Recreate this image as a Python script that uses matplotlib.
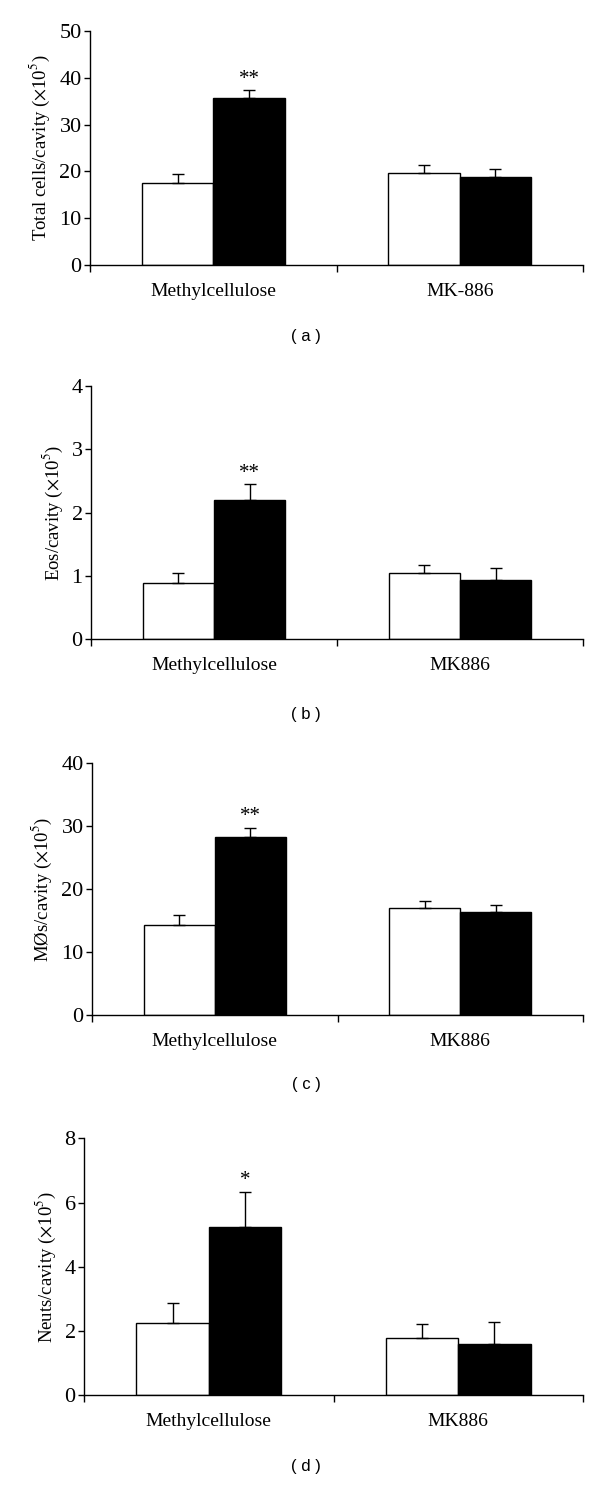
import matplotlib
matplotlib.use("Agg")
import matplotlib.pyplot as plt
import numpy as np

plt.rcParams['font.family'] = 'serif'
plt.rcParams['font.serif'] = ['Liberation Serif', 'DejaVu Serif']
plt.rcParams['mathtext.fontset'] = 'stix'

categories_a = ["Methylcellulose", "MK-886"]
categories_bcd = ["Methylcellulose", "MK886"]

total_white = [17.5, 19.6]
total_white_err = [2.0, 1.7]
total_black = [35.6, 18.9]
total_black_err = [1.8, 1.7]

eos_white = [0.89, 1.04]
eos_white_err = [0.15, 0.14]
eos_black = [2.20, 0.94]
eos_black_err = [0.25, 0.18]

mph_white = [14.2, 16.9]
mph_white_err = [1.7, 1.2]
mph_black = [28.2, 16.4]
mph_black_err = [1.5, 1.1]

neut_white = [2.26, 1.78]
neut_white_err = [0.60, 0.45]
neut_black = [5.23, 1.59]
neut_black_err = [1.11, 0.68]

panels = [
    dict(cats=categories_a, w=total_white, we=total_white_err, b=total_black, be=total_black_err,
         ylim=50, yticks=[0, 10, 20, 30, 40, 50], ylabel=r'Total cells/cavity ($\times$10$^5$)',
         star=['**', None], label='( a )',
         rect=[90/600, 1-265/1485, 493/600, 234/1485], ly=337),
    dict(cats=categories_bcd, w=eos_white, we=eos_white_err, b=eos_black, be=eos_black_err,
         ylim=4, yticks=[0, 1, 2, 3, 4], ylabel=r'Eos/cavity ($\times$10$^5$)',
         star=['**', None], label='( b )',
         rect=[91/600, 1-639.3/1485, 492/600, 253.3/1485], ly=715),
    dict(cats=categories_bcd, w=mph_white, we=mph_white_err, b=mph_black, be=mph_black_err,
         ylim=40, yticks=[0, 10, 20, 30, 40], ylabel=r'MØs/cavity ($\times$10$^5$)',
         star=['**', None], label='( c )',
         rect=[92/600, 1-1015/1485, 491/600, 252.3/1485], ly=1084),
    dict(cats=categories_bcd, w=neut_white, we=neut_white_err, b=neut_black, be=neut_black_err,
         ylim=8, yticks=[0, 2, 4, 6, 8], ylabel=r'Neuts/cavity ($\times$10$^5$)',
         star=['*', None], label='( d )',
         rect=[84/600, 1-1395.3/1485, 499/600, 257/1485], ly=1466),
]

fig = plt.figure(figsize=(6, 14.85), dpi=100)
width = 0.29
for p in panels:
    ax = fig.add_axes(p['rect'])
    x = np.arange(len(p['cats']))
    xw = x - width / 2
    xb = x + width / 2
    ax.bar(xw, p['w'], width, color='white', edgecolor='black', linewidth=1.0, zorder=2)
    ax.bar(xb, p['b'], width, color='black', edgecolor='black', linewidth=1.0, zorder=2)
    ax.errorbar(xw, p['w'], yerr=[np.zeros(len(x)), p['we']], fmt='none', ecolor='black',
                elinewidth=1.0, capsize=4.5, capthick=1.0, zorder=3)
    ax.errorbar(xb, p['b'], yerr=[np.zeros(len(x)), p['be']], fmt='none', ecolor='black',
                elinewidth=1.0, capsize=4.5, capthick=1.0, zorder=3)
    for i, s in enumerate(p['star']):
        if s:
            ax.annotate(s, (xb[i], p['b'][i] + p['be'][i]), xytext=(0, 1),
                        textcoords='offset points', ha='center', va='bottom', fontsize=15)
    ax.set_xlim(-0.5, 1.5)
    ax.set_ylim(0, p['ylim'])
    ax.set_yticks(p['yticks'])
    ax.set_xticks([-0.5, 0.5, 1.5])
    ax.set_xticklabels([])
    ax.tick_params(axis='x', direction='out', length=5, width=1.0)
    ax.tick_params(axis='y', direction='out', length=4, width=1.0, labelsize=16, pad=2)
    for i, c in enumerate(p['cats']):
        ax.text(x[i], -0.075 * p['ylim'] * 234 / (p['rect'][3] * 1485), c, ha='center', va='top', fontsize=14)
    ax.spines['top'].set_visible(False)
    ax.spines['right'].set_visible(False)
    ax.spines['left'].set_linewidth(1.0)
    ax.spines['bottom'].set_linewidth(1.0)
    ax.set_ylabel(p['ylabel'], fontsize=13.5, labelpad=5)
    fig.text(0.51, 1 - p['ly'] / 1485, p['label'], ha='center', va='center',
             fontsize=12, family='Liberation Sans')

fig.savefig('out.png', dpi=100, facecolor='white')
